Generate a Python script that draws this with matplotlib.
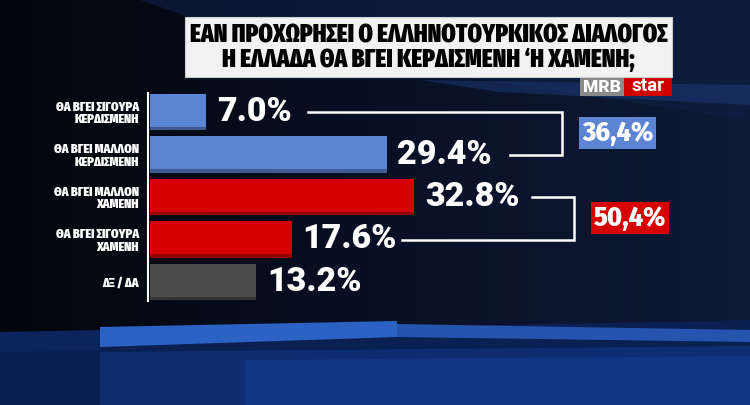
import numpy as np
import matplotlib
matplotlib.use('Agg')
import matplotlib.pyplot as plt
from matplotlib.patches import Rectangle, Polygon
from matplotlib.colors import LinearSegmentedColormap

# data
categories = ['ΘΑ ΒΓΕΙ ΣΙΓΟΥΡΑ\nΚΕΡΔΙΣΜΕΝΗ', 'ΘΑ ΒΓΕΙ ΜΑΛΛΟΝ\nΚΕΡΔΙΣΜΕΝΗ',
              'ΘΑ ΒΓΕΙ ΜΑΛΛΟΝ\nΧΑΜΕΝΗ', 'ΘΑ ΒΓΕΙ ΣΙΓΟΥΡΑ\nΧΑΜΕΝΗ', 'ΔΞ / ΔΑ']
values = [7.0, 29.4, 32.8, 17.6, 13.2]
bar_colors = ['#5b84d2', '#5b84d2', '#d60000', '#d60000', '#4b4b4b']
title_lines = ['ΕΑΝ ΠΡΟΧΩΡΗΣΕΙ Ο ΕΛΛΗΝΟΤΟΥΡΚΙΚΟΣ ΔΙΑΛΟΓΟΣ',
               'Η ΕΛΛΑΔΑ ΘΑ ΒΓΕΙ ΚΕΡΔΙΣΜΕΝΗ ‘Η ΧΑΜΕΝΗ;']
groups = [(0, 1), (2, 3)]
group_colors = ['#5b84d2', '#d60000']

COND = ['Fira Sans Extra Condensed', 'DejaVu Sans']
SEMI = ['Fira Sans Condensed', 'DejaVu Sans']
HEAVY = ['Roboto', 'DejaVu Sans']

W, H = 750, 405
fig = plt.figure(figsize=(7.5, 4.05), dpi=100)
fig.patch.set_facecolor('#060a16')

# background
bg = fig.add_axes([0, 0, 1, 1])
bg.set_xlim(0, W)
bg.set_ylim(H, 0)
bg.axis('off')
grad = np.linspace(0, 1, 256).reshape(1, -1)
bg.imshow(grad, extent=[0, W, H, 0], aspect='auto',
          cmap=LinearSegmentedColormap.from_list('bg', ['#03050b', '#081024', '#0e1a36']))
bg.add_patch(Polygon([[140, 0], [750, 0], [750, 120], [450, 75], [300, 55]], closed=True,
                     color='#0f2046', alpha=0.6, lw=0))
bg.add_patch(Polygon([[420, 80], [750, 85], [750, 105], [500, 92]], closed=True,
                     color='#1c3a78', alpha=0.5, lw=0))
bg.add_patch(Polygon([[0, 335], [750, 320], [750, H], [0, H]], closed=True,
                     color='#0a1f52', lw=0))
bg.add_patch(Polygon([[100, 352], [750, 346], [750, H], [100, H]], closed=True,
                     color='#0e2c70', lw=0))
bg.add_patch(Polygon([[245, 360], [750, 356], [750, H], [245, H]], closed=True,
                     color='#113583', lw=0))
bg.add_patch(Polygon([[100, 327], [397, 321], [397, 337], [100, 347]], closed=True,
                     color='#2c62c4', lw=0))
bg.add_patch(Polygon([[397, 324], [750, 330], [750, 342], [397, 337]], closed=True,
                     color='#2454ad', lw=0))
bg.add_patch(Polygon([[0, 332], [100, 330], [100, 350], [0, 352]], closed=True,
                     color='#0c245c', lw=0))

# bars
px = 8.06  # pixels per percent
x0, xw = 150, 600
ax = fig.add_axes([x0 / W, (H - 303.25) / H, xw / W, 212.5 / H])
ax.set_facecolor('none')
ax.set_xlim(0, xw / px)
ax.set_ylim(4.5, -0.5)
ypos = np.arange(len(values))
ax.barh(ypos, values, height=0.85, color=bar_colors, zorder=2)
# darker lower edge for a slight 3D look
ax.barh(ypos + 0.385, values, height=0.08, color='black', alpha=0.3, zorder=3)
for s in ax.spines.values():
    s.set_visible(False)
ax.axvline(-0.25, ymin=0.01, ymax=0.99, color='white', lw=1.5, clip_on=False)
ax.set_xticks([])
ax.set_yticks(ypos)
ax.set_yticklabels(categories, color='white', fontsize=9.5, fontweight=900,
                   family=COND, linespacing=1.0)
ax.tick_params(axis='y', length=0, pad=8)

for y, v in zip(ypos, values):
    ax.text(v + 1.3, y, f'{v:.1f}%', color='white', fontsize=24.5, fontweight=900,
            va='center', ha='left', family=HEAVY)

# brackets and totals
br = [dict(x_top=19.6, x_bot=44.7, x_right=51.1, box_x=53.6),
      dict(x_top=47.4, x_bot=31.3, x_right=52.6, box_x=55.1)]
for (a, b), c, g in zip(groups, group_colors, br):
    ax.plot([g['x_top'], g['x_right'], g['x_right'], g['x_bot']], [a, a, b, b],
            color='white', lw=1.8, solid_joinstyle='miter', clip_on=False)
    total = values[a] + values[b]
    ax.text(g['box_x'], (a + b) / 2, f'{total:.1f}%'.replace('.', ','),
            color='white', fontsize=20, fontweight=800, family=SEMI,
            va='center', ha='left',
            bbox=dict(boxstyle='square,pad=0.1', fc=c, ec='none'))

# title box
bg.add_patch(Rectangle((185, 17), 487, 60, fc='#f2f2f2', ec='#cccccc', lw=0.8))
bg.text(428.5, 35.5, title_lines[0], ha='center', va='center', fontsize=18,
        fontweight=900, family=COND, color='black')
bg.text(428.5, 60, title_lines[1], ha='center', va='center', fontsize=18,
        fontweight=900, family=COND, color='black')

# logo
bg.add_patch(Rectangle((580, 78), 44, 18, fc='#8a8a8a', ec='none'))
bg.add_patch(Rectangle((624, 78), 48, 18, fc='#d00000', ec='none'))
bg.text(602, 87.5, 'MRB', ha='center', va='center', fontsize=12.5, fontweight=900,
        color='white', family=HEAVY)
bg.text(648, 86, 'star', ha='center', va='center', fontsize=13.5, fontweight='bold',
        color='white', family=HEAVY)

fig.savefig('out.png', dpi=100, facecolor=fig.get_facecolor())
